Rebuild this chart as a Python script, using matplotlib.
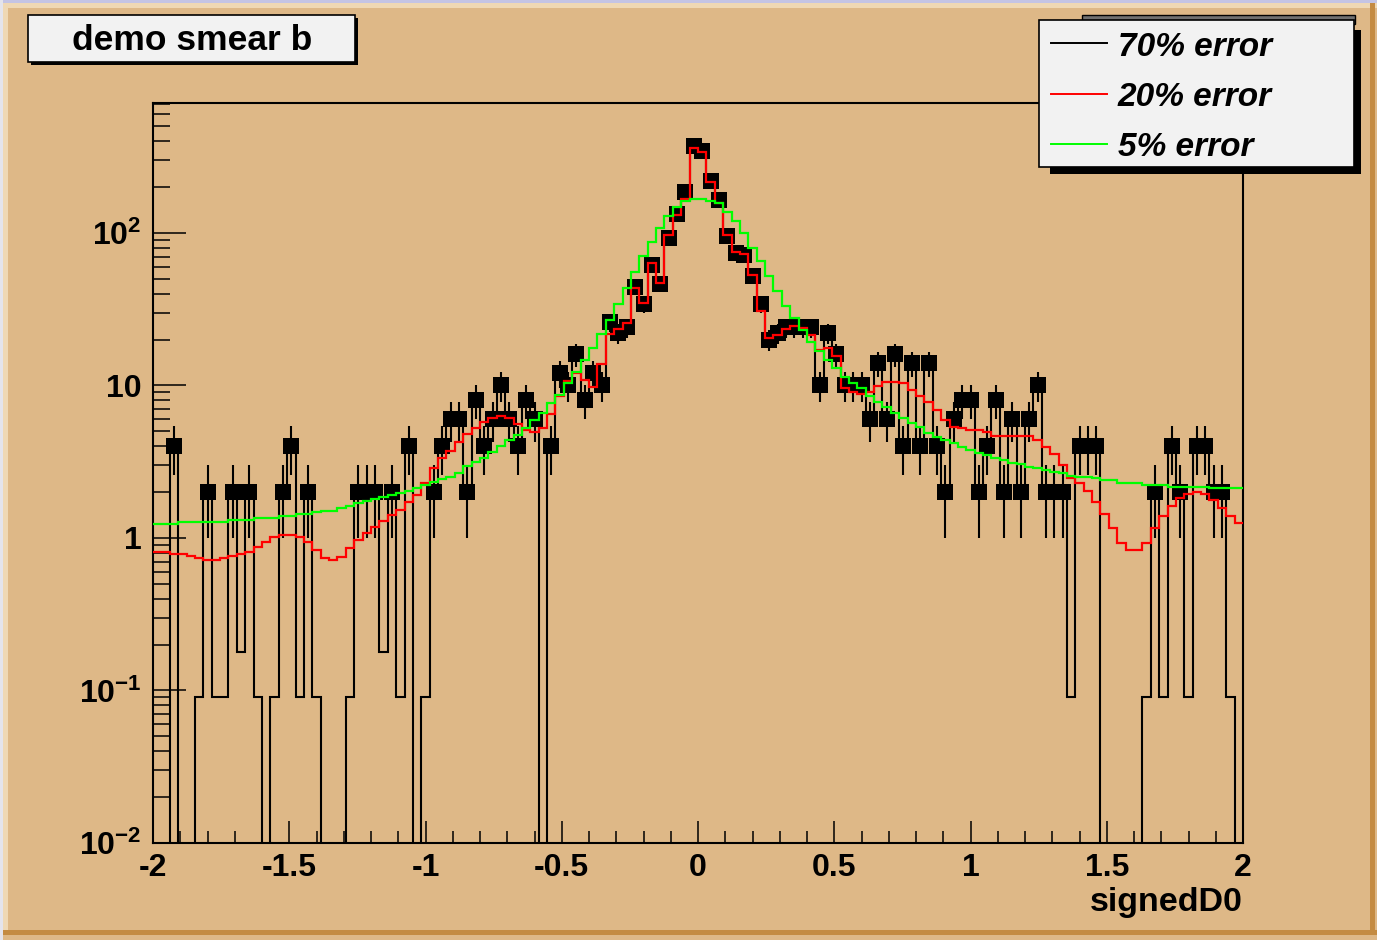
import numpy as np
import matplotlib
matplotlib.use("Agg")
import matplotlib.pyplot as plt
from matplotlib.patches import Rectangle
from matplotlib.lines import Line2D
from matplotlib.ticker import FixedLocator, FixedFormatter, MultipleLocator, LogLocator, NullFormatter

# ---------------- data ----------------
x_min, x_max, n_bins = -2.0, 2.0, 130

# measured points (markers with error bars); 0 = empty bin
data = [0, 0, 4, 0, 0, 0, 2, 0, 0, 2,
        0, 2, 0, 0, 0, 2, 4, 0, 2, 0,
        0, 0, 0, 0, 2, 2, 2, 0, 2, 0,
        4, 0, 0, 2, 4, 6, 6, 2, 8, 4,
        6, 10, 6, 4, 8, 6, 0, 4, 12, 10,
        16, 8, 12, 10, 26, 22, 24, 44, 34, 62,
        46, 92, 134, 186, 370, 346, 218, 164, 96, 74,
        72, 52, 34, 20, 22, 24, 24, 24, 24, 10,
        22, 16, 10, 10, 10, 6, 14, 6, 16, 4,
        14, 4, 14, 4, 2, 6, 8, 8, 2, 4,
        8, 2, 6, 2, 6, 10, 2, 2, 2, 0,
        4, 4, 4, 0, 0, 0, 0, 0, 0, 2,
        0, 4, 2, 0, 4, 4, 2, 2, 0, 0]

data_err = [0, 0, 1.41, 0, 0, 0, 1.0, 0, 0, 1.0,
            0, 1.0, 0, 0, 0, 1.0, 1.41, 0, 1.0, 0,
            0, 0, 0, 0, 1.0, 1.0, 1.0, 0, 1.0, 0,
            1.41, 0, 0, 1.0, 1.41, 1.73, 1.73, 1.0, 2.0, 1.41,
            1.73, 2.24, 1.73, 1.41, 2.0, 1.73, 0, 1.41, 2.45, 2.24,
            2.83, 2.0, 2.45, 2.24, 3.61, 3.32, 3.46, 4.69, 4.12, 5.57,
            4.80, 6.78, 8.19, 9.64, 13.6, 13.15, 10.44, 9.06, 6.93, 6.08,
            6.0, 5.10, 4.12, 3.16, 3.32, 3.46, 3.46, 3.46, 3.46, 2.24,
            3.32, 2.83, 2.24, 2.24, 2.24, 1.73, 2.65, 1.73, 2.83, 1.41,
            2.65, 1.41, 2.65, 1.41, 1.0, 1.73, 2.0, 2.0, 1.0, 1.41,
            2.0, 1.0, 1.73, 1.0, 1.73, 2.24, 1.0, 1.0, 1.0, 0,
            1.41, 1.41, 1.41, 0, 0, 0, 0, 0, 0, 1.0,
            0, 1.41, 1.0, 0, 1.41, 1.41, 1.0, 1.0, 0, 0]

# "70% error" histogram (black line)
h70 = [0, 0, 4, 0, 0, 0.09, 2, 0.09, 0.09, 2,
       0.18, 2, 0.09, 0, 0.09, 2, 4, 0.09, 2, 0.09,
       0, 0, 0, 0.09, 2, 2, 2, 0.18, 2, 0.09,
       4, 0, 0.09, 2, 4, 6, 6, 2, 8, 4,
       6, 10, 6, 4, 8, 6, 0, 4, 12, 10,
       16, 8, 12, 10, 26, 22, 24, 44, 34, 62,
       46, 92, 134, 186, 370, 346, 218, 164, 96, 74,
       72, 52, 34, 20, 22, 24, 24, 24, 24, 10,
       22, 16, 10, 10, 10, 6, 14, 6, 16, 4,
       14, 4, 14, 4, 2, 6, 8, 8, 2, 4,
       8, 2, 6, 2, 6, 10, 2, 2, 2, 0.09,
       4, 4, 4, 0, 0, 0, 0, 0, 0.09, 2,
       0.09, 4, 2, 0.09, 4, 4, 2, 2, 0.09, 0]

# "20% error" histogram (red line)
h20 = [0.806, 0.806, 0.78, 0.78, 0.76, 0.74, 0.714, 0.714, 0.74, 0.76,
       0.78, 0.806, 0.877, 0.937, 1.02, 1.046, 1.046, 1.02, 0.935, 0.834,
       0.736, 0.717, 0.754, 0.856, 0.97, 1.08, 1.186, 1.30, 1.415, 1.526,
       1.73, 1.91, 2.3, 2.87, 3.35, 3.73, 4.28, 4.78, 5.24, 5.79,
       6.09, 6.31, 6.09, 5.59, 5.10, 4.98, 5.29, 6.51, 8.58, 10.77,
       12.0, 10.9, 9.83, 13.9, 21.9, 23.5, 25.8, 43.4, 34.9, 63.9,
       46.8, 97, 131, 168, 359, 339, 217, 156, 97, 75,
       73, 53, 30.8, 20.4, 21.4, 23.5, 24.5, 23.7, 21.5, 17.1,
       17.5, 15.7, 9.6, 9.0, 8.8, 9.1, 9.9, 10.6, 10.6, 10.3,
       9.35, 8.5, 7.8, 6.9, 5.95, 5.37, 5.24, 5.1, 5.1, 4.98,
       4.66, 4.66, 4.66, 4.66, 4.66, 4.39, 3.97, 3.54, 3.01, 2.46,
       2.30, 2.04, 1.73, 1.43, 1.16, 0.93, 0.834, 0.834, 0.93, 1.16,
       1.39, 1.62, 1.82, 1.94, 1.99, 1.94, 1.77, 1.57, 1.39, 1.26]

# "5% error" histogram (green line)
h5 = [1.23, 1.23, 1.23, 1.27, 1.27, 1.27, 1.27, 1.27, 1.27, 1.31,
      1.31, 1.31, 1.35, 1.35, 1.35, 1.39, 1.39, 1.44, 1.44, 1.47,
      1.51, 1.51, 1.57, 1.62, 1.69, 1.75, 1.80, 1.85, 1.91, 1.96,
      2.03, 2.12, 2.23, 2.32, 2.45, 2.52, 2.68, 2.96, 3.13, 3.33,
      3.66, 4.01, 4.39, 4.73, 5.24, 5.95, 6.63, 7.7, 8.66, 10.4,
      12.3, 14.7, 17.5, 21.6, 26.8, 34.4, 43.7, 55.6, 70.8, 87.7,
      108.5, 129, 149, 162, 168, 168, 163, 156, 138, 119,
      99.3, 79.5, 65, 52.3, 41.4, 33.3, 27.6, 23.2, 19.3, 16.8,
      14.7, 13.1, 11.4, 10.4, 9.6, 8.5, 7.8, 7.25, 6.63, 6.09,
      5.7, 5.37, 4.9, 4.62, 4.39, 4.22, 3.97, 3.78, 3.63, 3.50,
      3.33, 3.23, 3.12, 3.04, 2.94, 2.86, 2.79, 2.72, 2.66, 2.56,
      2.52, 2.52, 2.46, 2.40, 2.40, 2.30, 2.30, 2.30, 2.23, 2.23,
      2.23, 2.17, 2.17, 2.17, 2.17, 2.17, 2.14, 2.14, 2.14, 2.14]

x_ticks = [-2, -1.5, -1, -0.5, 0, 0.5, 1, 1.5, 2]
x_tick_labels = ["-2", "-1.5", "-1", "-0.5", "0", "0.5", "1", "1.5", "2"]
y_ticks = [0.01, 0.1, 1, 10, 100]
y_tick_labels = [r"$10^{-2}$", r"$10^{-1}$", "1", "10", r"$10^{2}$"]
legend_labels = ["70% error", "20% error", "5% error"]
title_text = "demo smear b"
x_label = "signedD0"

# ---------------- style ----------------
plt.rcParams["font.family"] = ["Liberation Sans", "DejaVu Sans"]
plt.rcParams["font.weight"] = "bold"
plt.rcParams["mathtext.fontset"] = "custom"
plt.rcParams["mathtext.rm"] = "Liberation Sans:bold"
plt.rcParams["mathtext.bf"] = "Liberation Sans:bold"
plt.rcParams["mathtext.it"] = "Liberation Sans:bold:italic"
plt.rcParams["mathtext.default"] = "rm"
plt.rcParams["axes.unicode_minus"] = False

W, H = 1377, 940
BG = "#DEB887"
fig = plt.figure(figsize=(W / 100, H / 100), dpi=100, facecolor=BG)


def fx(px):
    return px / W


def fy(py):
    return 1 - py / H


def frect(x0, y0, x1, y1, **kw):
    r = Rectangle((fx(x0), fy(y1)), fx(x1) - fx(x0), fy(y0) - fy(y1),
                  transform=fig.transFigure, **kw)
    fig.add_artist(r)
    return r


# canvas decoration (window strip and bevel)
frect(0, 0, W, 3, facecolor="#C4C4E4", edgecolor="none", zorder=0)
frect(0, 0, 3, H, facecolor="#E4E4EC", edgecolor="none", zorder=0)
frect(3, 3, W, 8, facecolor="#EFD8B4", edgecolor="none", zorder=0)
frect(3, 3, 8, 934, facecolor="#EFD8B4", edgecolor="none", zorder=0)
frect(3, 930, W, 935, facecolor="#C48B42", edgecolor="none", zorder=0)
frect(1370, 3, 1375, 935, facecolor="#C48B42", edgecolor="none", zorder=0)

# ---------------- axes ----------------
L, R, T, B = 153, 1243, 103, 843
ax = fig.add_axes([fx(L), fy(B), fx(R) - fx(L), fy(T) - fy(B)])
ax.set_facecolor(BG)

edges = np.linspace(x_min, x_max, n_bins + 1)
centers = 0.5 * (edges[:-1] + edges[1:])
d = np.array(data, dtype=float)
de = np.array(data_err, dtype=float)
a70 = np.array(h70, dtype=float)
a20 = np.array(h20, dtype=float)
a5 = np.array(h5, dtype=float)

ax.set_yscale("log")
ax.set_xlim(x_min, x_max)
ax.set_ylim(0.01, 711)

ax.stairs(np.where(a70 > 0, a70, 1e-4), edges, color="black", lw=1.5,
          baseline=None, zorder=2)
m = d > 0
ax.errorbar(centers[m], d[m], yerr=de[m], fmt="s", color="black", ms=11.5,
            mew=0, elinewidth=1.5, capsize=0, zorder=3)
ax.stairs(a20, edges, color="#FF0000", lw=1.6, baseline=None, zorder=4)
ax.stairs(a5, edges, color="#00FF00", lw=1.6, baseline=None, zorder=5)

ax.xaxis.set_major_locator(FixedLocator(x_ticks))
ax.xaxis.set_major_formatter(FixedFormatter(x_tick_labels))
ax.xaxis.set_minor_locator(MultipleLocator(0.1))
ax.yaxis.set_major_locator(FixedLocator(y_ticks))
ax.yaxis.set_major_formatter(FixedFormatter(y_tick_labels))
ax.yaxis.set_minor_locator(LogLocator(base=10, subs=np.arange(2, 10), numticks=20))
ax.yaxis.set_minor_formatter(NullFormatter())

ax.tick_params(axis="x", which="major", direction="in", length=15.8, width=1.1,
               pad=7, labelsize=23, top=False)
ax.tick_params(axis="x", which="minor", direction="in", length=8.6, width=1.1, top=False)
ax.tick_params(axis="y", which="major", direction="in", length=23.8, width=1.1,
               pad=8, labelsize=23, right=False)
ax.tick_params(axis="y", which="minor", direction="in", length=12.2, width=1.1, right=False)
for lbl in ax.get_xticklabels() + ax.get_yticklabels():
    lbl.set_fontweight("bold")

for s in ax.spines.values():
    s.set_linewidth(1.5)
    s.set_color("black")

fig.text(fx(1243), fy(903), x_label, ha="right", va="center", fontsize=24.5,
         fontweight="bold")

# ---------------- title box ----------------
frect(31, 18, 358, 65, facecolor="black", edgecolor="none", zorder=5)
frect(28, 15, 355, 62, facecolor="#F2F2F2", edgecolor="black", lw=1.2, zorder=6)
fig.text(fx(192), fy(40), title_text, ha="center", va="center", fontsize=25.5,
         fontweight="bold", zorder=7)

# ---------------- legend ----------------
frect(1082, 15, 1355, 24, facecolor="#707070", edgecolor="black", lw=1.0, zorder=5)
frect(1050, 30, 1361, 174, facecolor="black", edgecolor="none", zorder=6)
frect(1039, 20, 1354, 167, facecolor="#F2F2F2", edgecolor="black", lw=1.2, zorder=7)
leg_colors = ["black", "#FF0000", "#00FF00"]
leg_line_y = [43, 94, 144]
leg_text_y = [48, 97, 147]
for lab, col, ly, ty in zip(legend_labels, leg_colors, leg_line_y, leg_text_y):
    fig.add_artist(Line2D([fx(1051), fx(1107)], [fy(ly), fy(ly)], color=col, lw=1.4,
                          transform=fig.transFigure, zorder=8))
    fig.text(fx(1118), fy(ty), lab, ha="left", va="center", fontsize=24,
             fontweight="bold", fontstyle="italic", zorder=9)

fig.savefig("out.png", dpi=100, facecolor=BG)
